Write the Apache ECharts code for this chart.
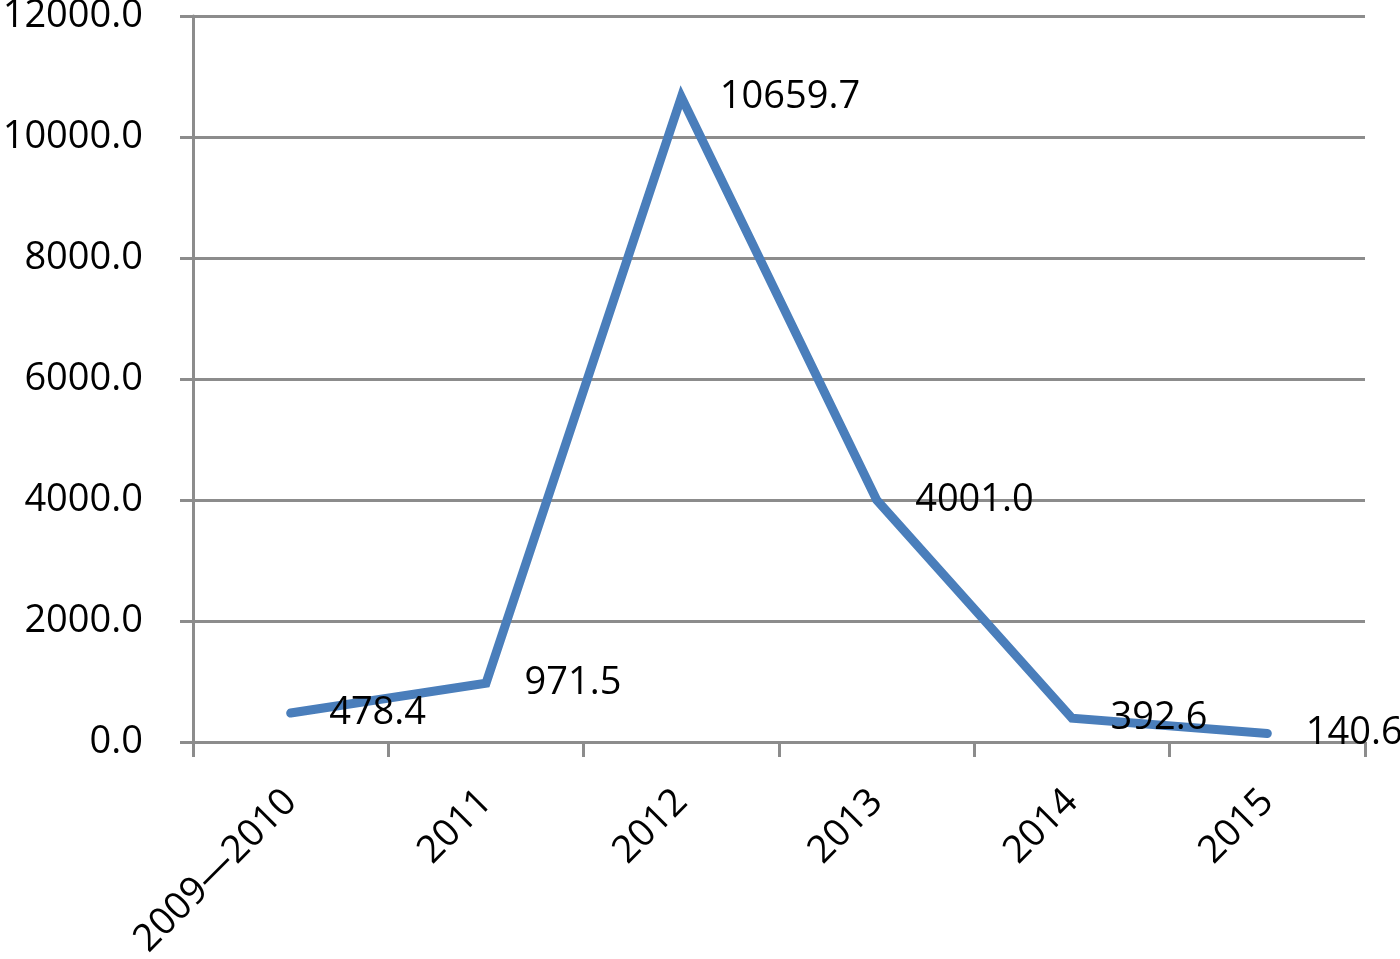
<!DOCTYPE html>
<html>
<head>
<meta charset="utf-8">
<script src="https://cdn.jsdelivr.net/npm/echarts@6/dist/echarts.min.js"></script>
<style>html,body{margin:0;padding:0;background:#fff;}#c{width:1400px;height:959px;}</style>
</head>
<body>
<div id="c"></div>
<script>
const categories = ['2009\u20142010', '2011', '2012', '2013', '2014', '2015'];
const values = [478.4, 971.5, 10659.7, 4001.0, 392.6, 140.6];
const yMin = 0, yMax = 12000, yInterval = 2000;

const chart = echarts.init(document.getElementById('c'), null, {renderer: 'canvas'});
const font = '"Open Sans", "Noto Sans", sans-serif';
const gray = '#8c8c8c';
chart.setOption({
  animation: false,
  grid: {left: 193, right: 35, top: 16, bottom: 217, containLabel: false, outerBoundsMode: 'none'},
  xAxis: {
    type: 'category',
    data: categories,
    boundaryGap: true,
    axisLine: {lineStyle: {color: gray, width: 3}},
    axisTick: {show: true, length: 15, lineStyle: {color: gray, width: 3}},
    axisLabel: {rotate: 45, margin: 54, color: '#000', fontSize: 38, fontFamily: font, interval: 0}
  },
  yAxis: {
    type: 'value',
    min: yMin, max: yMax, interval: yInterval,
    axisLine: {show: true, lineStyle: {color: gray, width: 3}},
    axisTick: {show: true, length: 13, lineStyle: {color: gray, width: 3}},
    splitLine: {lineStyle: {color: gray, width: 3}},
    axisLabel: {margin: 50, color: '#000', fontSize: 38, fontFamily: font, formatter: v => v.toFixed(1)}
  },
  series: [{
    type: 'line',
    data: values,
    symbol: 'circle',
    symbolSize: 1,
    showSymbol: true,
    itemStyle: {color: 'rgba(0,0,0,0)'},
    lineStyle: {color: '#4a7ebb', width: 9, cap: 'round', join: 'miter'},
    label: {show: true, position: 'right', distance: 38, offset: [0, 8], color: '#000', fontSize: 38, fontFamily: font, formatter: p => p.value.toFixed(1)},
    labelLayout: {hideOverlap: false},
    z: 3
  }]
});
</script>
</body>
</html>
